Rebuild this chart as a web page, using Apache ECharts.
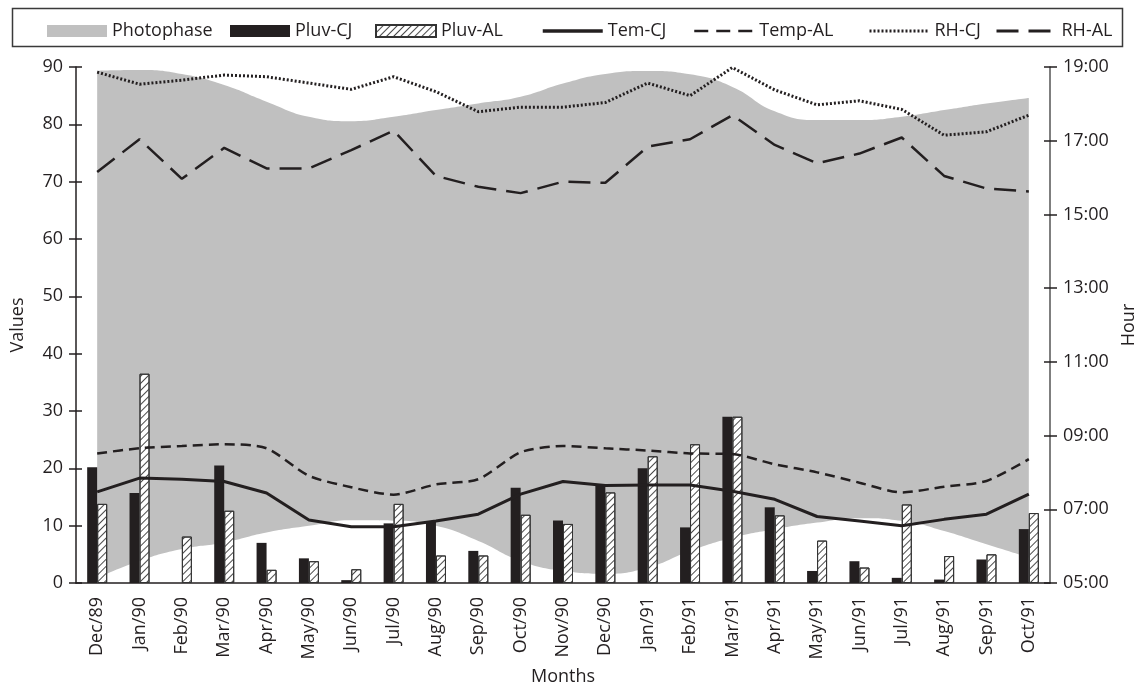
<!DOCTYPE html>
<html>
<head>
<meta charset="utf-8">
<script src="https://cdn.jsdelivr.net/npm/echarts@6/dist/echarts.min.js"></script>
<style>html,body{margin:0;padding:0;background:#fff}#c{width:1136px;height:691px}</style>
</head>
<body>
<div id="c"></div>
<script>
var months = ['Dec/89','Jan/90','Feb/90','Mar/90','Apr/90','May/90','Jun/90','Jul/90','Aug/90','Sep/90','Oct/90','Nov/90','Dec/90','Jan/91','Feb/91','Mar/91','Apr/91','May/91','Jun/91','Jul/91','Aug/91','Sep/91','Oct/91'];
var pluvCJ = [20.2, 15.7, 0, 20.5, 7.0, 4.3, 0.5, 10.4, 10.7, 5.6, 16.6, 10.9, 17.2, 20.0, 9.7, 29.0, 13.2, 2.1, 3.8, 0.9, 0.6, 4.1, 9.4];
var pluvAL = [13.8, 36.5, 8.1, 12.6, 2.3, 3.8, 2.4, 13.8, 4.8, 4.8, 11.9, 10.3, 15.8, 22.1, 24.2, 29.0, 11.8, 7.4, 2.7, 13.7, 4.7, 5.0, 12.2];
var temCJ = [15.9, 18.3, 18.1, 17.7, 15.7, 11.0, 9.8, 9.8, 10.8, 12.0, 15.5, 17.7, 17.0, 17.1, 17.1, 16.0, 14.6, 11.6, 10.8, 10.0, 11.1, 12.0, 15.5];
var tempAL = [22.6, 23.5, 23.9, 24.2, 23.5, 18.7, 16.7, 15.4, 17.2, 18.1, 22.8, 23.9, 23.5, 23.1, 22.6, 22.5, 20.7, 19.3, 17.5, 15.8, 16.8, 17.8, 21.6];
var rhCJ = [89.1, 87.0, 87.7, 88.6, 88.3, 87.2, 86.1, 88.3, 85.7, 82.2, 83.0, 83.0, 83.8, 87.2, 85.0, 89.9, 86.0, 83.4, 84.1, 82.6, 78.1, 78.7, 81.6];
var rhAL = [71.7, 77.4, 70.5, 75.9, 72.3, 72.3, 75.5, 78.9, 71.0, 69.1, 68.0, 70.0, 69.8, 76.1, 77.4, 81.6, 76.4, 73.2, 74.9, 77.7, 71.0, 68.8, 68.3];
var sunsetHours = [18.90, 18.92, 18.81, 18.51, 18.06, 17.65, 17.53, 17.65, 17.83, 18.01, 18.19, 18.55, 18.81, 18.89, 18.80, 18.46, 17.80, 17.56, 17.56, 17.65, 17.83, 18.01, 18.16];
var sunriseHours = [5.14, 5.60, 5.92, 6.10, 6.37, 6.55, 6.70, 6.69, 6.55, 6.14, 5.60, 5.33, 5.25, 5.42, 5.87, 6.23, 6.46, 6.64, 6.76, 6.69, 6.41, 6.05, 5.69];

var INK = '#231f20';
var FONT = 'Open Sans';
var FS = 18;
var photoSpan = sunsetHours.map(function (v, i) { return +(v - sunriseHours[i]).toFixed(3); });
var hatch = { symbol: 'rect', symbolSize: 1, color: '#4a4a4a', dashArrayX: [1, 0], dashArrayY: [1, 3.5], rotation: -Math.PI / 4 };

function hourFmt(v) { var h = Math.round(v); return (h < 10 ? '0' : '') + h + ':00'; }

var chart = echarts.init(document.getElementById('c'), null, { renderer: 'canvas' });

function leg(name, left, extra) {
  var o = { data: [name], left: left, top: 22, itemWidth: 60, itemHeight: 12, itemGap: 0, padding: 0,
    textStyle: { fontFamily: FONT, fontSize: FS, color: INK }, selectedMode: false };
  for (var k in extra) o[k] = extra[k];
  return o;
}
function lineLeg(name, left, w, type) {
  return leg(name, left, { itemStyle: { opacity: 0, borderWidth: 0 },
    lineStyle: { color: INK, width: w, type: type, opacity: 1 } });
}

var tickCross = { show: true, inside: true, length: 6, lineStyle: { color: INK, width: 1.5 } };

chart.setOption({
  animation: false,
  textStyle: { fontFamily: FONT },
  graphic: [{ type: 'rect', shape: { x: 12.5, y: 8.5, width: 1110, height: 38 }, style: { fill: 'none', stroke: '#3a3a3a', lineWidth: 1.5 }, z: 100 }],
  legend: [
    leg('Photophase', 47, { data: [{ name: 'Photophase', icon: 'rect', itemStyle: { color: '#c0c0c0' } }] }),
    leg('Pluv-CJ', 230, { data: [{ name: 'Pluv-CJ', icon: 'rect' }] }),
    leg('Pluv-AL', 375, { data: [{ name: 'Pluv-AL', icon: 'rect' }] }),
    lineLeg('Tem-CJ', 541, 3.5, 'solid'),
    lineLeg('Temp-AL', 693, 2.5, [14, 8]),
    lineLeg('RH-CJ', 868, 3, [2, 2]),
    lineLeg('RH-AL', 995, 3, [22, 10])
  ],
  grid: { left: 76, right: 86, top: 67, bottom: 108, containLabel: false, outerBoundsMode: 'none' },
  xAxis: {
    type: 'category', data: months, boundaryGap: true,
    axisLine: { lineStyle: { color: INK, width: 1.5 } },
    axisTick: { show: false },
    axisLabel: { rotate: 90, margin: 14, fontSize: FS, color: INK, fontFamily: FONT },
    name: 'Months', nameLocation: 'middle', nameGap: 85,
    nameTextStyle: { fontSize: FS, color: INK, fontFamily: FONT }
  },
  yAxis: [
    { type: 'value', position: 'left', min: 0, max: 90, interval: 10,
      axisLine: { show: true, lineStyle: { color: INK, width: 1.5 } },
      axisTick: { show: true, length: 7, lineStyle: { color: INK, width: 1.5 } },
      axisLabel: { margin: 13, fontSize: FS, color: INK, fontFamily: FONT },
      splitLine: { show: false },
      name: 'Values', nameLocation: 'middle', nameGap: 49, nameRotate: 90,
      nameTextStyle: { fontSize: FS, color: INK, fontFamily: FONT } },
    { type: 'value', position: 'right', min: 5, max: 19, interval: 2,
      axisLine: { show: true, lineStyle: { color: '#555', width: 1.5 } },
      axisTick: { show: true, length: 7, lineStyle: { color: INK, width: 1.5 } },
      axisLabel: { margin: 13, fontSize: FS, color: INK, fontFamily: FONT, formatter: hourFmt },
      splitLine: { show: false },
      name: 'Hour', nameLocation: 'middle', nameGap: 66, nameRotate: 90,
      nameTextStyle: { fontSize: FS, color: INK, fontFamily: FONT } },
    { type: 'value', position: 'left', min: 0, max: 90, interval: 10,
      axisLine: { show: false }, axisTick: tickCross, axisLabel: { show: false }, splitLine: { show: false } },
    { type: 'value', position: 'right', min: 5, max: 19, interval: 2,
      axisLine: { show: false }, axisTick: tickCross, axisLabel: { show: false }, splitLine: { show: false } }
  ],
  series: [
    { name: 'sunrise', type: 'line', yAxisIndex: 1, stack: 'photo', data: sunriseHours, smooth: 0.5,
      symbol: 'none', lineStyle: { width: 0, opacity: 0 }, silent: true, z: 1 },
    { name: 'Photophase', type: 'line', yAxisIndex: 1, stack: 'photo', data: photoSpan, smooth: 0.5,
      symbol: 'none', lineStyle: { width: 0, opacity: 0 }, itemStyle: { color: '#c0c0c0' },
      areaStyle: { color: '#c0c0c0', opacity: 1 }, silent: true, z: 1 },
    { name: 'Pluv-CJ', type: 'bar', yAxisIndex: 0, data: pluvCJ, barWidth: 10, barGap: '0%',
      itemStyle: { color: INK }, z: 3 },
    { name: 'Pluv-AL', type: 'bar', yAxisIndex: 0, data: pluvAL, barWidth: 10, barGap: '0%',
      itemStyle: { color: '#ffffff', borderColor: '#333', borderWidth: 1, decal: hatch }, z: 3 },
    { name: 'Tem-CJ', type: 'line', yAxisIndex: 0, data: temCJ, symbol: 'none',
      lineStyle: { color: INK, width: 3 }, itemStyle: { color: INK }, z: 4 },
    { name: 'Temp-AL', type: 'line', yAxisIndex: 0, data: tempAL, symbol: 'none', smooth: 0.25,
      lineStyle: { color: INK, width: 2.5, type: [10, 6] }, itemStyle: { color: INK }, z: 4 },
    { name: 'RH-CJ', type: 'line', yAxisIndex: 0, data: rhCJ, symbol: 'none',
      lineStyle: { color: INK, width: 3, type: [2, 2] }, itemStyle: { color: INK }, z: 4 },
    { name: 'RH-AL', type: 'line', yAxisIndex: 0, data: rhAL, symbol: 'none',
      lineStyle: { color: INK, width: 2.5, type: [22, 10] }, itemStyle: { color: INK }, z: 4 }
  ]
});
</script>
</body>
</html>
